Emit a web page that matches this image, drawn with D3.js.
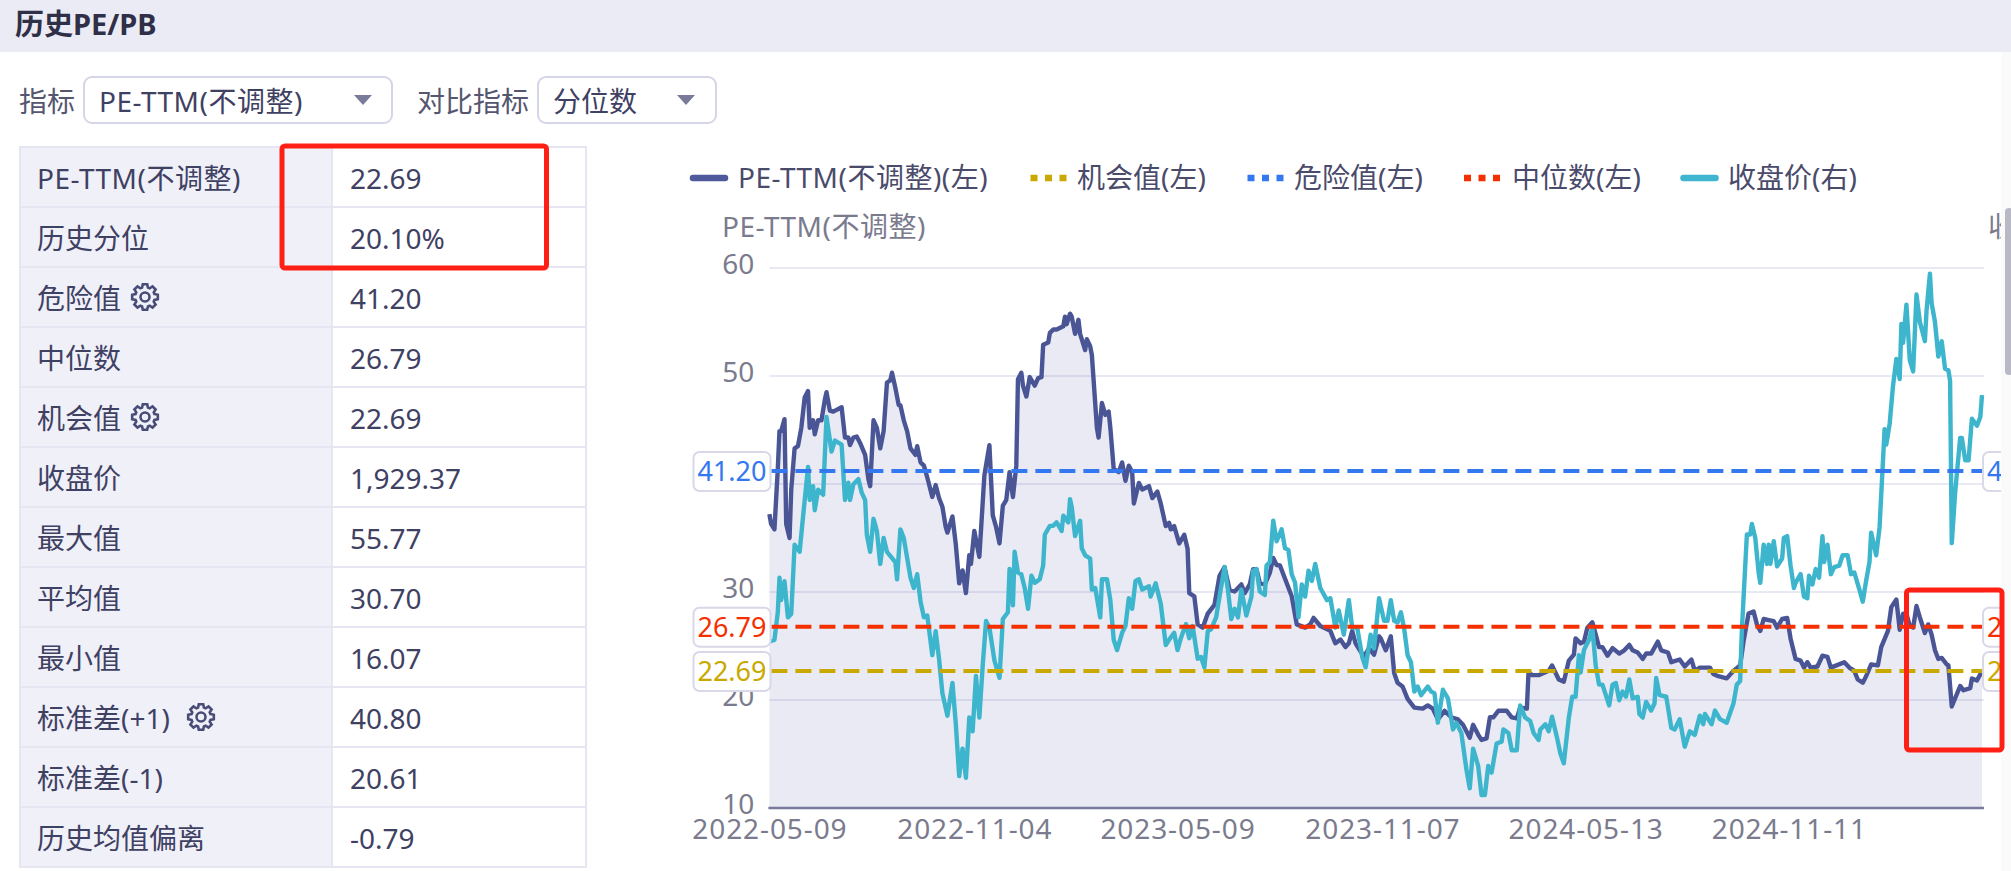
<!DOCTYPE html>
<html>
<head>
<meta charset="utf-8">
<script src="https://cdn.jsdelivr.net/npm/d3@7"></script>
<style>
  html, body { margin: 0; padding: 0; background: #fff; overflow: hidden; }
  text { font-family: "Noto Sans", "Noto Sans CJK SC", sans-serif; }
</style>
</head>
<body>
<svg id="chart" width="2011" height="871"></svg>
<script>
// Stats table on the left
const rowLabels = ['PE-TTM(不调整)', '历史分位', '危险值', '中位数', '机会值', '收盘价',
  '最大值', '平均值', '最小值', '标准差(+1)', '标准差(-1)', '历史均值偏离'];
const rowValues = ['22.69', '20.10%', '41.20', '26.79', '22.69', '1,929.37',
  '55.77', '30.70', '16.07', '40.80', '20.61', '-0.79'];
const gearRows = [2, 4, 9];

// Axis ticks. Trading days are counted from 2022-05-09.
const dayCount = 722;
const tickDays = [0, 122, 243, 365, 486, 607];
const tickDates = ['2022-05-09', '2022-11-04', '2023-05-09', '2023-11-07', '2024-05-13', '2024-11-11'];
const peTicks = [10, 20, 30, 40, 50, 60];

// Reference levels on the left axis
const levels = [
  { name: '机会值(左)', value: 22.69, color: '#c9a800' },
  { name: '危险值(左)', value: 41.20, color: '#3478f0' },
  { name: '中位数(左)', value: 26.79, color: '#f53000' },
];

// PE-TTM, [trading day, value]
const peSeries = [
  [0,37.2],[1,36.3],[3,35.8],[5,41.4],[6,44.9],[7,44.9],[9,46.0],[10,36.3],[12,35.0],[13,39.5],
  [15,43.3],[17,43.5],[19,45.2],[21,48.0],[23,48.6],[24,45.2],[26,45.9],[27,44.6],[29,45.9],[31,45.9],
  [33,47.8],[34,48.5],[36,46.8],[38,46.7],[43,47.1],[45,44.3],[47,44.3],[48,43.6],[50,44.3],[52,44.4],
  [54,43.8],[57,42.7],[59,40.4],[60,39.8],[62,45.9],[64,45.2],[66,43.3],[68,44.9],[70,49.4],[72,49.6],
  [73,50.3],[75,48.9],[77,47.3],[78,47.3],[80,45.9],[82,44.9],[84,43.3],[87,42.7],[88,43.5],[90,42.0],
  [92,41.7],[94,40.6],[97,38.8],[99,39.9],[101,38.7],[103,37.9],[105,36.0],[106,35.5],[109,37.0],[111,34.4],
  [113,30.8],[115,32.0],[117,29.9],[119,33.4],[120,32.6],[122,35.65],[125,33.25],[128,40.8],[131,43.6],[133,37.1],
  [135,36.0],[137,34.5],[139,38.0],[141,38.5],[143,41.1],[145,38.8],[147,41.7],[148,49.7],[150,50.3],[151,49.1],
  [153,48.1],[155,49.9],[158,49.1],[160,49.8],[162,49.9],[163,52.9],[166,53.1],[167,54.0],[169,54.3],[171,54.3],
  [175,54.6],[176,55.5],[177,54.8],[179,55.77],[180,55.5],[182,53.9],[184,55.2],[185,53.9],[188,52.4],[189,53.4],
  [191,52.75],[192,51.95],[193,49.7],[195,45.2],[196,44.3],[198,47.5],[200,46.4],[202,46.7],[203,45.2],[205,41.4],
  [208,41.1],[210,42.0],[212,40.3],[214,41.7],[216,41.1],[217,38.2],[220,40.1],[222,39.5],[226,39.8],[228,38.7],
  [231,39.3],[233,38.2],[236,36.1],[238,36.4],[239,35.8],[241,36.1],[244,34.5],[247,35.3],[249,34.0],[250,29.9],
  [253,29.6],[255,27.0],[258,26.7],[261,28.0],[265,28.8],[268,31.5],[271,32.3],[274,30.2],[277,30.05],[281,30.7],
  [283,29.9],[286,30.7],[288,32.1],[290,32.1],[292,30.85],[295,30.7],[298,31.8],[300,33.15],[302,32.5],[304,32.45],
  [311,29.6],[314,27.0],[319,26.7],[322,27.0],[324,27.6],[328,26.85],[334,26.4],[337,25.25],[340,25.6],[343,24.9],
  [345,25.25],[347,26.4],[349,25.25],[354,24.0],[357,24.8],[360,24.2],[363,25.9],[364,25.7],[367,24.6],[370,25.9],
  [372,22.5],[374,21.6],[377,21.25],[380,20.1],[384,19.3],[389,19.2],[392,19.5],[395,19.2],[398,18.2],[402,19.0],
  [406,18.4],[410,18.2],[413,17.7],[417,16.5],[419,17.7],[422,16.8],[424,16.3],[427,16.45],[429,18.4],[431,18.4],
  [434,19.0],[439,19.0],[442,18.4],[445,18.3],[447,19.3],[451,19.2],[452,22.6],[454,22.3],[458,22.3],[461,22.5],
  [464,22.7],[466,23.2],[470,21.9],[473,21.7],[476,23.65],[479,24.2],[480,25.7],[483,25.25],[485,25.4],[487,26.7],
  [490,27.2],[492,26.05],[494,24.9],[496,24.9],[499,24.1],[502,24.8],[506,24.3],[509,24.6],[512,25.1],[514,24.6],
  [517,24.4],[520,23.8],[522,24.3],[525,24.3],[529,25.4],[531,24.6],[535,24.4],[537,23.5],[542,23.75],[545,23.1],
  [549,23.75],[551,22.7],[554,23.0],[560,23.0],[562,22.4],[565,22.2],[570,22.0],[574,22.7],[578,23.2],[580,25.4],
  [583,28.0],[586,28.2],[588,27.0],[590,26.4],[592,27.5],[595,27.4],[598,27.3],[600,26.7],[603,27.5],[606,27.6],
  [608,25.7],[611,23.8],[614,23.65],[616,23.0],[618,23.5],[620,23.0],[624,23.1],[627,24.1],[630,24.0],[632,23.0],
  [640,23.5],[643,23.0],[646,22.7],[648,21.9],[651,21.6],[653,22.2],[656,23.3],[660,23.2],[662,24.9],[666,26.4],
  [668,28.6],[671,29.3],[673,26.5],[675,28.0],[677,28.0],[679,26.85],[681,26.7],[683,28.7],[685,27.65],[688,26.2],
  [690,27.0],[692,26.05],[694,24.6],[696,23.8],[698,23.9],[701,23.3],[702,23.2],[704,19.4],[709,21.3],[711,20.9],
  [715,21.1],[716,22.0],[719,21.8],[722,22.69],
];

// Close price on the right axis, [trading day, value]
const closeSeries = [
  [0,1017],[3,1023],[5,1125],[6,1253],[7,1170],[9,1240],[11,1106],[13,1119],[15,1375],[18,1349],
  [20,1477],[23,1663],[24,1541],[26,1592],[27,1503],[29,1579],[32,1560],[34,1848],[37,1720],[39,1761],
  [43,1746],[45,1541],[47,1605],[48,1541],[50,1599],[53,1618],[55,1567],[57,1541],[58,1413],[60,1349],
  [62,1471],[64,1426],[66,1304],[68,1400],[70,1349],[75,1311],[76,1247],[78,1432],[80,1400],[84,1253],
  [86,1215],[88,1266],[90,1164],[92,1106],[94,1113],[97,966],[99,1055],[101,953],[103,825],[106,742],
  [109,863],[111,710],[113,518],[115,620],[117,512],[119,735],[121,684],[123,889],[125,735],[127,927],
  [129,1093],[131,1068],[134,946],[137,882],[139,1100],[142,1125],[143,1285],[145,1151],[146,1349],[148,1272],
  [150,1266],[152,1215],[154,1138],[156,1260],[158,1234],[161,1247],[163,1298],[164,1413],[167,1445],[169,1445],
  [171,1458],[174,1426],[175,1483],[178,1458],[179,1544],[180,1515],[182,1407],[185,1464],[186,1362],[188,1336],
  [191,1324],[192,1209],[194,1215],[197,1106],[198,1247],[201,1247],[203,1170],[205,1023],[207,985],[210,1049],
  [212,1074],[214,1177],[216,1138],[218,1241],[220,1247],[222,1209],[226,1221],[227,1183],[230,1232],[233,1157],
  [236,1004],[238,1023],[241,1049],[243,985],[245,1029],[248,1081],[250,1029],[252,1074],[255,953],[257,959],
  [259,921],[261,1055],[263,1062],[266,1106],[268,1183],[271,1292],[273,1209],[275,1100],[277,1138],[279,1106],
  [281,1209],[284,1113],[287,1183],[288,1279],[290,1285],[292,1202],[295,1189],[296,1298],[298,1311],[300,1464],
  [302,1388],[305,1432],[307,1362],[309,1356],[311,1266],[313,1234],[315,1106],[317,1228],[319,1183],[321,1279],
  [323,1241],[325,1304],[328,1215],[332,1170],[334,1177],[337,1068],[339,1132],[342,1042],[345,1170],[347,1068],
  [350,1068],[353,959],[355,921],[358,1042],[360,991],[363,1177],[366,1093],[368,1093],[370,1170],[372,1093],
  [374,1087],[376,1125],[378,1062],[380,966],[382,940],[384,831],[386,850],[388,818],[392,850],[394,831],
  [396,825],[398,716],[401,838],[404,806],[407,691],[409,716],[412,678],[415,543],[417,473],[419,620],
  [422,556],[424,448],[426,448],[428,556],[430,531],[433,639],[436,646],[437,691],[440,678],[442,614],
  [445,614],[447,780],[450,735],[453,722],[455,678],[458,652],[459,691],[462,710],[464,684],[466,738],
  [469,659],[471,601],[473,566],[476,735],[478,812],[480,812],[482,966],[483,902],[485,985],[488,1023],
  [490,1068],[492,927],[494,857],[496,857],[500,780],[502,857],[504,863],[506,799],[508,831],[510,812],
  [512,876],[514,806],[517,812],[518,748],[520,735],[522,793],[525,761],[527,787],[528,882],[530,818],
  [534,812],[537,697],[539,691],[542,729],[545,627],[548,684],[551,671],[554,742],[556,710],[557,748],
  [561,710],[563,761],[566,729],[570,716],[574,787],[576,857],[578,870],[579,1055],[582,1413],[584,1413],
  [585,1452],[587,1400],[589,1272],[590,1234],[592,1375],[594,1304],[595,1375],[596,1304],[598,1388],[600,1295],
  [603,1324],[604,1400],[606,1407],[608,1298],[610,1215],[611,1234],[614,1266],[616,1183],[618,1177],[619,1260],
  [621,1228],[623,1285],[625,1253],[627,1407],[628,1311],[630,1375],[632,1266],[634,1292],[637,1298],[639,1336],
  [642,1336],[644,1266],[646,1272],[649,1209],[651,1164],[653,1241],[655,1311],[656,1420],[659,1336],[661,1439],
  [664,1803],[665,1746],[667,1822],[669,1963],[671,2063],[673,1989],[674,2193],[675,2123],[677,2264],[679,2059],
  [681,2017],[683,2302],[685,2200],[688,2129],[689,2245],[691,2379],[692,2270],[694,2200],[696,2072],[698,2129],
  [700,2027],[702,2021],[703,1982],[704,1381],[706,1567],[709,1771],[710,1771],[712,1688],[714,1688],[716,1842],
  [719,1816],[721,1848],[722,1929.37],
];

const svg = d3.select('#chart');
const textDark = '#3f4163';
const textAxis = '#7b7b8e';
const border = '#e6e6f3';
const fontSize = 28;
const latinSpacing = s => s.startsWith('PE-TTM') ? '0.5px' : null;

// ---- header ----
svg.append('rect').attr('width', 2011).attr('height', 52).attr('fill', '#ebebf5');
svg.append('text').attr('x', 15).attr('y', 25).attr('dy', '.35em')
  .attr('font-size', 29).attr('font-weight', 700).attr('fill', '#2f3047').text('历史PE/PB');

// ---- selectors ----
function selectBox(labelX, label, boxX, boxW, value, triX) {
  svg.append('text').attr('x', labelX).attr('y', 102).attr('dy', '.35em')
    .attr('font-size', fontSize).attr('fill', '#55566f').text(label);
  svg.append('rect').attr('x', boxX).attr('y', 77).attr('width', boxW).attr('height', 46)
    .attr('rx', 8).attr('fill', '#fff').attr('stroke', '#d5d5e8').attr('stroke-width', 2);
  svg.append('text').attr('x', boxX + 15).attr('y', 102).attr('dy', '.35em')
    .attr('font-size', fontSize).attr('fill', textDark).attr('letter-spacing', latinSpacing(value)).text(value);
  svg.append('path').attr('fill', '#7a7a9a')
    .attr('d', `M${triX - 9},95 L${triX + 9},95 L${triX},105 Z`);
}
selectBox(19, '指标', 84, 308, 'PE-TTM(不调整)', 363);
selectBox(417, '对比指标', 538, 178, '分位数', 686);

// ---- stats table ----
const tableTop = 147, rowH = 60, tableLeft = 20, colSplit = 332, tableRight = 586;
const rows = svg.append('g').selectAll('g').data(rowLabels).join('g')
  .attr('transform', (d, i) => `translate(0, ${tableTop + i * rowH})`);
rows.append('rect').attr('x', tableLeft).attr('width', colSplit - tableLeft).attr('height', rowH)
  .attr('fill', '#f0f0f9').attr('stroke', border).attr('stroke-width', 2);
rows.append('rect').attr('x', colSplit).attr('width', tableRight - colSplit).attr('height', rowH)
  .attr('fill', '#fff').attr('stroke', border).attr('stroke-width', 2);
rows.append('text').attr('x', 37).attr('y', rowH / 2 + 2).attr('dy', '.35em')
  .attr('font-size', fontSize).attr('fill', textDark).attr('letter-spacing', latinSpacing).text(d => d);
rows.append('text').attr('x', 350).attr('y', rowH / 2 + 2).attr('dy', '.35em')
  .attr('font-size', fontSize).attr('fill', textDark).text((d, i) => rowValues[i]);

// little gear next to the configurable rows
function gearPath(r) {
  const pts = [];
  d3.range(8).forEach(i => {
    const a = i * Math.PI / 4;
    [[-0.3, r * 0.76], [-0.17, r], [0.17, r], [0.3, r * 0.76]].forEach(p => {
      pts.push([Math.cos(a + p[0]) * p[1], Math.sin(a + p[0]) * p[1]]);
    });
  });
  return d3.line().curve(d3.curveLinearClosed)(pts);
}
const gearX = { 2: 145, 4: 145, 9: 201 };
gearRows.forEach(i => {
  const g = svg.append('g').attr('transform', `translate(${gearX[i]}, ${tableTop + i * rowH + rowH / 2})`)
    .attr('fill', 'none').attr('stroke', '#4a4c78').attr('stroke-width', 2.6);
  g.append('path').attr('d', gearPath(13));
  g.append('circle').attr('r', 4.5);
});

// ---- chart ----
const plot = { left: 769.4, right: 1982, top: 268, bottom: 808 };
const x = d3.scaleLinear().domain([0, dayCount]).range([plot.left, plot.right]);
const yLeft = d3.scaleLinear().domain([10, 60]).range([plot.bottom, plot.top]);
const yRight = d3.scaleLinear().domain([400, 2400]).range([plot.bottom, plot.top]);

// horizontal grid + left labels
const axisLeft = d3.axisLeft(yLeft).tickValues(peTicks).tickSize(0).tickPadding(15);
const leftG = svg.append('g').attr('transform', `translate(${plot.left}, 0)`).call(axisLeft);
leftG.select('.domain').remove();
leftG.selectAll('text').attr('font-size', fontSize).attr('fill', textAxis)
  .attr('font-family', null).attr('dy', '.2em');
svg.append('g').selectAll('line').data(peTicks.slice(1)).join('line')
  .attr('x1', plot.left).attr('x2', plot.right + 2)
  .attr('y1', d => yLeft(d)).attr('y2', d => yLeft(d))
  .attr('stroke', '#e9e9f4').attr('stroke-width', 2);

// shaded area under the PE line
const area = d3.area().x(d => x(d[0])).y0(plot.bottom).y1(d => yLeft(d[1]));
svg.append('path').datum(peSeries).attr('d', area).attr('fill', 'rgba(78, 84, 160, 0.12)');

const peLine = d3.line().x(d => x(d[0])).y(d => yLeft(d[1]));
const closeLine = d3.line().x(d => x(d[0])).y(d => yRight(d[1]));
svg.append('path').datum(peSeries).attr('d', peLine).attr('fill', 'none')
  .attr('stroke', '#4a5596').attr('stroke-width', 4.4).attr('stroke-linejoin', 'round');
svg.append('path').datum(closeSeries).attr('d', closeLine).attr('fill', 'none')
  .attr('stroke', '#3cb5cd').attr('stroke-width', 4.4).attr('stroke-linejoin', 'round');

// x axis
const axisBottom = d3.axisBottom(x).tickValues(tickDays).tickSize(0).tickPadding(11)
  .tickFormat((d, i) => tickDates[i]);
const bottomG = svg.append('g').attr('transform', `translate(0, ${plot.bottom})`).call(axisBottom);
bottomG.select('.domain').attr('stroke', '#7a7a9c').attr('stroke-width', 2.5)
  .attr('d', `M${plot.left - 1},0 H${plot.right + 2}`);
bottomG.selectAll('text').attr('font-size', fontSize).attr('fill', textAxis)
  .attr('font-family', null).attr('letter-spacing', '0.9px');

// dashed reference lines with their value tags
const clip = svg.append('defs').append('clipPath').attr('id', 'panel');
clip.append('rect').attr('width', 2001).attr('height', 871);

const levelG = svg.append('g').attr('clip-path', 'url(#panel)');
levels.forEach(l => {
  const ly = yLeft(l.value);
  levelG.append('line').attr('x1', plot.left + 2).attr('x2', plot.right)
    .attr('y1', ly).attr('y2', ly).attr('stroke', l.color).attr('stroke-width', 4)
    .attr('stroke-dasharray', '16 8');
  [[693.5, 'start'], [1983, 'right']].forEach(tag => {
    levelG.append('rect').attr('x', tag[0]).attr('y', ly - 19).attr('width', 77).attr('height', 39)
      .attr('rx', 6).attr('fill', '#fff').attr('stroke', '#d8d8e8').attr('stroke-width', 2);
    levelG.append('text').attr('x', tag[0] + 38.5).attr('y', ly + 1).attr('dy', '.35em')
      .attr('text-anchor', 'middle').attr('font-size', 27).attr('fill', l.color)
      .text(l.value.toFixed(2));
  });
});

// axis names
svg.append('text').attr('x', 722).attr('y', 227).attr('dy', '.35em')
  .attr('font-size', fontSize).attr('fill', textAxis).attr('letter-spacing', '0.5px').text('PE-TTM(不调整)');
svg.append('g').attr('clip-path', 'url(#panel)').append('text')
  .attr('x', 1988).attr('y', 227).attr('dy', '.35em')
  .attr('font-size', fontSize).attr('fill', textAxis).text('收盘价');

// legend
const legendItems = [
  { name: 'PE-TTM(不调整)(左)', color: '#4e5a9c', swatch: 691, label: 738, solid: true },
  { name: levels[0].name, color: levels[0].color, swatch: 1030.5, label: 1077 },
  { name: levels[1].name, color: levels[1].color, swatch: 1247.5, label: 1294 },
  { name: levels[2].name, color: levels[2].color, swatch: 1464, label: 1512 },
  { name: '收盘价(右)', color: '#3fb5cf', swatch: 1681.5, label: 1728, solid: true },
];
const legendY = 178;
legendItems.forEach(item => {
  const ln = svg.append('line').attr('x1', item.swatch).attr('x2', item.swatch + 36)
    .attr('y1', legendY).attr('y2', legendY).attr('stroke', item.color).attr('stroke-width', 6.5);
  if (item.solid) ln.attr('stroke-linecap', 'round').attr('x1', item.swatch + 2).attr('x2', item.swatch + 34);
  else ln.attr('stroke-dasharray', '7 7.5');
  svg.append('text').attr('x', item.label).attr('y', legendY).attr('dy', '.35em')
    .attr('font-size', fontSize).attr('fill', '#4a4b6b').attr('letter-spacing', latinSpacing(item.name)).text(item.name);
});

// scrollbar strip at the right edge
svg.append('rect').attr('x', 2001).attr('y', 52).attr('width', 10).attr('height', 819).attr('fill', '#fafafa');
svg.append('rect').attr('x', 2005).attr('y', 208).attr('width', 8).attr('height', 167)
  .attr('rx', 4).attr('fill', '#b9b9c6');

// red hand-drawn annotation boxes
[[282, 146, 264.5, 122], [1906.5, 590, 95.5, 160]].forEach(b => {
  svg.append('rect').attr('x', b[0]).attr('y', b[1]).attr('width', b[2]).attr('height', b[3])
    .attr('rx', 3).attr('fill', 'none').attr('stroke', '#ff2015').attr('stroke-width', 5);
});
</script>
</body>
</html>
